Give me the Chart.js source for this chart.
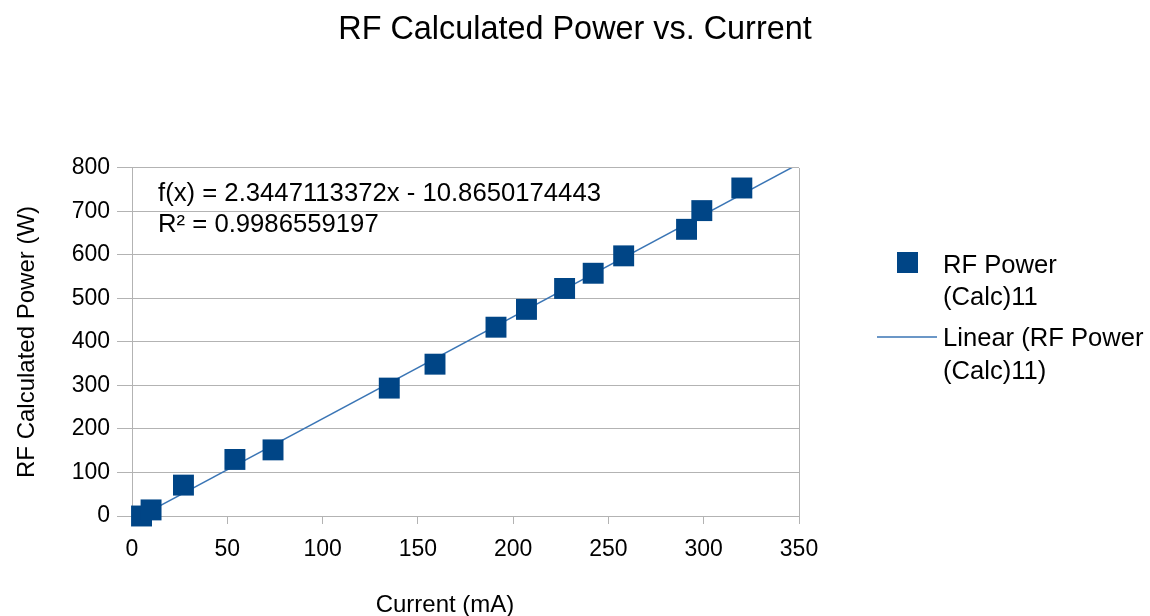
<!DOCTYPE html>
<html>
<head>
<meta charset="utf-8">
<script src="https://cdn.jsdelivr.net/npm/chart.js@4/dist/chart.umd.min.js"></script>
<style>
  html, body { margin: 0; padding: 0; background: #fff; }
  #chart { display: block; }
</style>
</head>
<body>
<canvas id="chart" width="1150" height="616"></canvas>
<script>
// values
const currentMA = [5, 10, 27, 54, 74, 135, 159, 191, 207, 227, 242, 258, 291, 299, 320];
const powerW = [0, 14, 71, 130, 152, 294, 349, 434, 475, 523, 558, 598, 659, 702, 754];
const fitSlope = 2.3447113372;
const fitIntercept = -10.8650174443;
const fitText = "f(x) = 2.3447113372x - 10.8650174443";
const r2Text = "R\u00b2 = 0.9986559197";
const xTicks = [0, 50, 100, 150, 200, 250, 300, 350];
const yTicks = [0, 100, 200, 300, 400, 500, 600, 700, 800];

const FONT = "'Liberation Sans', Arial, sans-serif";
const markColor = "#004586";
const lineColor = "#3a75b5";
const gridColor = "#b3b3b3";

const points = currentMA.map((x, i) => ({ x: x, y: powerW[i] }));
const fitStart = Math.min(...currentMA);
const fitEnd = xTicks[xTicks.length - 1];
const fitLine = [
  { x: fitStart, y: fitSlope * fitStart + fitIntercept },
  { x: fitEnd, y: fitSlope * fitEnd + fitIntercept }
];

// equation text, x axis title and the legend on the right
const extras = {
  id: "extras",
  afterDraw(chart) {
    const ctx = chart.ctx;
    ctx.save();
    ctx.fillStyle = "#000";
    ctx.textBaseline = "middle";
    ctx.textAlign = "left";
    ctx.font = "25.7px " + FONT;
    ctx.fillText(fitText, 158, 194);
    ctx.fillText(r2Text, 158, 225);

    ctx.textAlign = "center";
    ctx.font = "24px " + FONT;
    ctx.fillText("Current (mA)", 445, 605);

    // legend
    ctx.textAlign = "left";
    ctx.fillStyle = markColor;
    ctx.fillRect(897, 252, 21, 21);
    ctx.strokeStyle = lineColor;
    ctx.lineWidth = 1.5;
    ctx.beginPath();
    ctx.moveTo(877, 337);
    ctx.lineTo(937, 337);
    ctx.stroke();
    ctx.fillStyle = "#000";
    ctx.font = "25.6px " + FONT;
    ctx.fillText("RF Power", 943, 266);
    ctx.fillText("(Calc)11", 943, 298);
    ctx.fillText("Linear (RF Power", 943, 339);
    ctx.fillText("(Calc)11)", 943, 372);
    ctx.restore();
  }
};

new Chart(document.getElementById("chart").getContext("2d"), {
  type: "scatter",
  data: {
    datasets: [
      {
        label: "RF Power (Calc)11",
        data: points,
        pointStyle: "rect",
        pointRadius: 14.8,
        pointHoverRadius: 14.8,
        pointBackgroundColor: markColor,
        pointBorderWidth: 0,
        borderColor: markColor,
        clip: false
      },
      {
        label: "Linear (RF Power (Calc)11)",
        type: "line",
        data: fitLine,
        borderColor: lineColor,
        borderWidth: 1.5,
        pointRadius: 0,
        fill: false,
        tension: 0
      }
    ]
  },
  options: {
    responsive: false,
    animation: false,
    layout: { padding: 0 },
    plugins: {
      legend: { display: false },
      tooltip: { enabled: false },
      title: {
        display: true,
        text: "RF Calculated Power vs. Current",
        color: "#000",
        font: { family: FONT, size: 32.4, weight: "normal", lineHeight: 1.2 },
        padding: { top: 11, bottom: 118.1 }
      }
    },
    scales: {
      x: {
        type: "linear",
        min: 0,
        max: 350,
        afterFit(scale) { scale.height = 100; },
        afterBuildTicks(scale) { scale.ticks = xTicks.map(v => ({ value: v })); },
        ticks: {
          color: "#000",
          font: { family: FONT, size: 23 },
          padding: 12,
          maxRotation: 0
        },
        grid: {
          color: ctx => (ctx.tick && ctx.tick.value === 350 ? gridColor : "rgba(0,0,0,0)"),
          tickColor: gridColor,
          tickLength: 8,
          lineWidth: 1
        },
        border: { color: gridColor, width: 1 }
      },
      y: {
        type: "linear",
        min: 0,
        max: 800,
        afterFit(scale) { scale.width = 132; },
        afterBuildTicks(scale) { scale.ticks = yTicks.map(v => ({ value: v })); },
        ticks: {
          color: "#000",
          font: { family: FONT, size: 23 },
          padding: 7
        },
        grid: {
          color: gridColor,
          tickColor: gridColor,
          tickLength: 15,
          lineWidth: 1
        },
        border: { color: gridColor, width: 1 },
        title: {
          display: true,
          text: "RF Calculated Power (W)",
          color: "#000",
          font: { family: FONT, size: 24, lineHeight: 1 },
          padding: { top: 15, bottom: 0 }
        }
      },
      // empty right axis: keeps room for the legend so the title stays centred on the page
      legendSpace: {
        type: "linear",
        position: "right",
        min: 0,
        max: 800,
        afterFit(scale) { scale.width = 351; },
        ticks: { display: false },
        grid: { display: false, drawTicks: false },
        border: { display: false }
      }
    }
  },
  plugins: [extras]
});
</script>
</body>
</html>
